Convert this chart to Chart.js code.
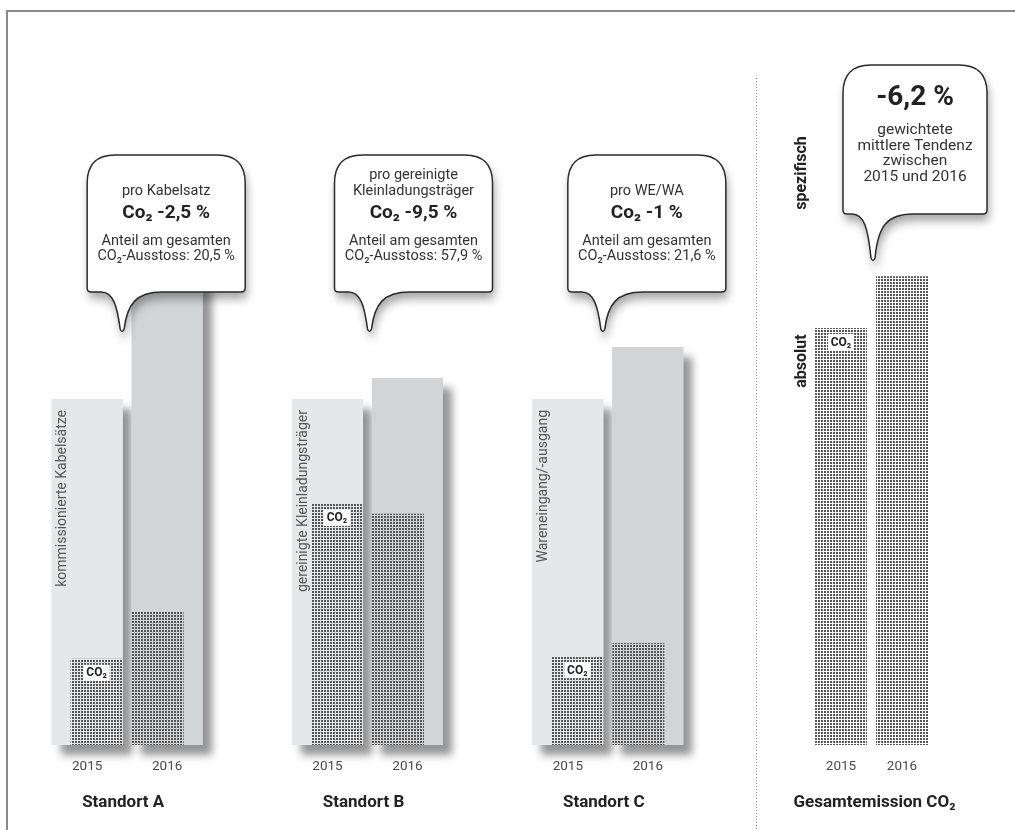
<!DOCTYPE html>
<html lang="de">
<head>
<meta charset="utf-8">
<title>CO2-Emissionen Standorte 2015/2016</title>
<script src="https://cdn.jsdelivr.net/npm/chart.js@4.4.1/dist/chart.umd.min.js"></script>
<style>
  html, body { margin: 0; padding: 0; background: #fff; }
  #wrap { position: relative; width: 1015px; height: 830px; overflow: hidden; }
  #rahmen { position: absolute; left: 6px; top: 10px; right: -4px; bottom: -4px; border-top: 2px solid #8a8a8a; border-left: 2px solid #8a8a8a; }
  #standorte { position: absolute; left: 0; top: 0; }
  #gesamt { position: absolute; left: 740px; top: 0; }
</style>
</head>
<body>
<div id="wrap">
  <div id="rahmen"></div>
  <canvas id="standorte" width="740" height="830"></canvas>
  <canvas id="gesamt" width="275" height="830"></canvas>
</div>
<script>
var standorte = ['Standort A', 'Standort B', 'Standort C'];
var jahre = ['2015', '2016'];
// Bezugsgroesse je Standort (2015 = 100)
var bezug2015 = [100, 100, 100];
var bezug2016 = [135, 106.1, 115];
// CO2 absolut (gleiche Einheit wie Gesamtemission)
var co2_2015 = [24.9, 69.7, 25.7];
var co2_2016 = [38.7, 66.8, 29.5];
var gesamtLabel = ['Gesamtemission CO₂'];
var gesamt2015 = [120.5];
var gesamt2016 = [135.5];
var bezugsgroessen = ['kommissionierte Kabelsätze', 'gereinigte Kleinladungsträger', 'Wareneingang/-ausgang'];
var proText = [['pro Kabelsatz'], ['pro gereinigte', 'Kleinladungsträger'], ['pro WE/WA']];
var tendenz = ['-2,5 %', '-9,5 %', '-1 %'];
var anteil = ['20,5 %', '57,9 %', '21,6 %'];
var gesamtTendenz = '-6,2 %';
var gesamtText = ['gewichtete', 'mittlere Tendenz', 'zwischen', '2015 und 2016'];

var FONT = 'Roboto, "DejaVu Sans", sans-serif';
var hell = '#e6e7e8';
var dunkel = '#d3d4d6';

function punktMuster(ctx) {
  var c = document.createElement('canvas');
  c.width = 3; c.height = 3;
  var g = c.getContext('2d');
  g.fillStyle = '#555555';
  g.fillRect(0, 0, 2, 2);
  return ctx.createPattern(c, 'repeat');
}

function sprechblase(ctx, L, T, W, H, tipX, tipH) {
  var R = 28, r = 4, B = T + H, Rr = L + W;
  ctx.beginPath();
  ctx.moveTo(L + R, T);
  ctx.lineTo(Rr - R, T);
  ctx.quadraticCurveTo(Rr, T, Rr, T + R);
  ctx.lineTo(Rr, B - r);
  ctx.quadraticCurveTo(Rr, B, Rr - r, B);
  ctx.lineTo(tipX + 40, B);
  ctx.bezierCurveTo(tipX + 14, B, tipX + 5, B + 12, tipX + 2, B + tipH - 4);
  ctx.quadraticCurveTo(tipX, B + tipH + 1, tipX - 2, B + tipH - 4);
  ctx.bezierCurveTo(tipX - 5, B + 14, tipX - 9, B, tipX - 21, B);
  ctx.lineTo(L + r, B);
  ctx.quadraticCurveTo(L, B, L, B - r);
  ctx.lineTo(L, T + R);
  ctx.quadraticCurveTo(L, T, L + R, T);
  ctx.closePath();

  ctx.save();
  ctx.shadowColor = 'rgba(0,0,0,0.35)';
  ctx.shadowBlur = 10;
  ctx.shadowOffsetX = 2;
  ctx.shadowOffsetY = 7;
  ctx.fillStyle = '#fff';
  ctx.fill();
  ctx.restore();
  ctx.lineWidth = 1.5;
  ctx.strokeStyle = '#2b2b2b';
  ctx.stroke();
}

function text(ctx, s, x, y, font, color, align) {
  ctx.font = font;
  ctx.fillStyle = color;
  ctx.textAlign = align || 'center';
  ctx.textBaseline = 'middle';
  ctx.fillText(s, x, y);
}

function drehText(ctx, s, x, y, font, color, align) {
  ctx.save();
  ctx.translate(x, y);
  ctx.rotate(-Math.PI / 2);
  text(ctx, s, 0, 0, font, color, align);
  ctx.restore();
}

function co2Marke(ctx, el) {
  ctx.fillStyle = '#fff';
  ctx.fillRect(el.x - 13, el.y + 6, 26, 16);
  text(ctx, 'CO₂', el.x, el.y + 14.5, 'bold 12px ' + FONT, '#222');
}

function jahresLabels(chart, idx) {
  var ctx = chart.ctx;
  idx.forEach(function (d, j) {
    chart.getDatasetMeta(d).data.forEach(function (el) {
      text(ctx, jahre[j], el.x, 767, '13.5px ' + FONT, '#4a4a4a');
    });
  });
}

// Schatten unter den Bezugsbalken
var schattenPlugin = {
  id: 'schatten',
  beforeDatasetsDraw: function (chart) {
    var ctx = chart.ctx;
    [0, 1].forEach(function (d) {
      var meta = chart.getDatasetMeta(d);
      meta.data.forEach(function (el) {
        var p = el.getProps(['x', 'y', 'base', 'width'], true);
        ctx.save();
        ctx.shadowColor = 'rgba(0,0,0,0.42)';
        ctx.shadowBlur = 8;
        ctx.shadowOffsetX = 9;
        ctx.shadowOffsetY = 10;
        ctx.fillStyle = meta.controller.getDataset().backgroundColor;
        ctx.fillRect(p.x - p.width / 2, p.y, p.width, p.base - p.y);
        ctx.restore();
      });
    });
  }
};

var standortPlugin = {
  id: 'standortBeschriftung',
  afterDraw: function (chart) {
    var ctx = chart.ctx;
    var xs = chart.scales.x;
    var m15 = chart.getDatasetMeta(0).data;
    var c15 = chart.getDatasetMeta(2).data;
    var versatz = [0, 7, 0];

    m15.forEach(function (el, i) {
      var links = el.x - el.width / 2;
      drehText(ctx, bezugsgroessen[i], links + 11, el.y + 11, '14px ' + FONT, '#555', 'right');
    });
    c15.forEach(function (el) { co2Marke(ctx, el); });

    jahresLabels(chart, [0, 1]);
    standorte.forEach(function (s, i) {
      text(ctx, s, xs.getPixelForValue(i) - 4, 803, 'bold 17px ' + FONT, '#222');
    });

    // Sprechblasen
    m15.forEach(function (el, i) {
      var L = el.x + versatz[i], T = 155, W = 158;
      sprechblase(ctx, L, T, W, 137, L + 35, 41);
      var cx = L + W / 2;
      var pro = proText[i];
      if (pro.length === 2) {
        text(ctx, pro[0], cx, T + 20, '14.5px ' + FONT, '#333');
        text(ctx, pro[1], cx, T + 36.5, '14.5px ' + FONT, '#333');
      } else {
        text(ctx, pro[0], cx, T + 36.5, '14.5px ' + FONT, '#333');
      }
      text(ctx, 'Co₂ ' + tendenz[i], cx, T + 58, 'bold 19px ' + FONT, '#222');
      text(ctx, 'Anteil am gesamten', cx, T + 86.5, '14.5px ' + FONT, '#333');
      text(ctx, 'CO₂-Ausstoss: ' + anteil[i], cx, T + 101.5, '14.5px ' + FONT, '#333');
    });
  }
};

var gesamtPlugin = {
  id: 'gesamtBeschriftung',
  afterDraw: function (chart) {
    var ctx = chart.ctx;
    var xs = chart.scales.x;

    // gepunktete Trennlinie
    ctx.save();
    ctx.strokeStyle = '#8a8a8a';
    ctx.lineWidth = 1;
    ctx.setLineDash([1, 2]);
    ctx.beginPath();
    ctx.moveTo(16.5, 78);
    ctx.lineTo(16.5, 830);
    ctx.stroke();
    ctx.restore();

    chart.getDatasetMeta(0).data.forEach(function (el) { co2Marke(ctx, el); });
    jahresLabels(chart, [0, 1]);
    text(ctx, gesamtLabel[0], xs.getPixelForValue(0) + 3, 803, 'bold 17px ' + FONT, '#222');

    drehText(ctx, 'spezifisch', 62, 173, 'bold 16px ' + FONT, '#222');
    drehText(ctx, 'absolut', 62, 361, 'bold 16px ' + FONT, '#222');

    var L = 103, T = 65, W = 144;
    sprechblase(ctx, L, T, W, 149, L + 30, 48);
    var cx = L + W / 2;
    text(ctx, gesamtTendenz, cx, 98, 'bold 28px ' + FONT, '#222');
    gesamtText.forEach(function (s, k) {
      text(ctx, s, cx, 130 + k * 15.7, '15.5px ' + FONT, '#333');
    });
  }
};

// Bezugsbalken und CO2-Balken teilen sich je Jahr einen Platz (stack),
// die Werte werden aber nicht gestapelt (y.stacked = false)
var ctxA = document.getElementById('standorte').getContext('2d');
var musterA = punktMuster(ctxA);
new Chart(ctxA, {
  type: 'bar',
  data: {
    labels: standorte,
    datasets: [
      { label: 'Bezug 2015', data: bezug2015, backgroundColor: hell, stack: 's2015', order: 2,
        categoryPercentage: 0.6657, barPercentage: 0.8875 },
      { label: 'Bezug 2016', data: bezug2016, backgroundColor: dunkel, stack: 's2016', order: 2,
        categoryPercentage: 0.6657, barPercentage: 0.8875 },
      { label: 'CO2 2015', data: co2_2015, backgroundColor: musterA, stack: 's2015', order: 1,
        categoryPercentage: 0.5076, barPercentage: 0.8525 },
      { label: 'CO2 2016', data: co2_2016, backgroundColor: musterA, stack: 's2016', order: 1,
        categoryPercentage: 0.5076, barPercentage: 0.8525 }
    ]
  },
  options: {
    responsive: false,
    animation: false,
    events: [],
    layout: { padding: { top: 53, bottom: 85, left: 7, right: 12 } },
    datasets: { bar: { clip: false } },
    plugins: { legend: { display: false }, tooltip: { enabled: false } },
    scales: {
      x: { display: false },
      y: { display: false, stacked: false, min: 0, max: 200 }
    }
  },
  plugins: [schattenPlugin, standortPlugin]
});

var ctxG = document.getElementById('gesamt').getContext('2d');
var musterG = punktMuster(ctxG);
new Chart(ctxG, {
  type: 'bar',
  data: {
    labels: gesamtLabel,
    datasets: [
      { label: 'CO2 2015', data: gesamt2015, backgroundColor: musterG,
        categoryPercentage: 0.5076, barPercentage: 0.8525 },
      { label: 'CO2 2016', data: gesamt2016, backgroundColor: musterG,
        categoryPercentage: 0.5076, barPercentage: 0.8525 }
    ]
  },
  options: {
    responsive: false,
    animation: false,
    events: [],
    layout: { padding: { top: 53, bottom: 85, left: 11.33, right: 23.33 } },
    plugins: { legend: { display: false }, tooltip: { enabled: false } },
    scales: {
      x: { display: false },
      y: { display: false, min: 0, max: 200 }
    }
  },
  plugins: [gesamtPlugin]
});
</script>
</body>
</html>
